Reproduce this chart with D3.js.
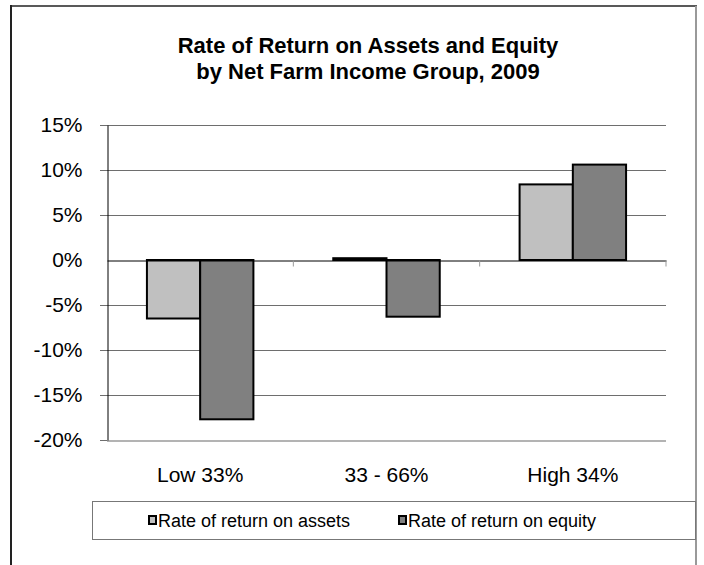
<!DOCTYPE html>
<html lang="en">
<head>
<meta charset="utf-8" />
<title>Rate of Return on Assets and Equity</title>
<script src="https://d3js.org/d3.v7.min.js"></script>
<style>
    body, html {
        margin: 0;
        padding: 0;
        background: #fff;
        font-family: Arial, "Liberation Sans", sans-serif;
    }
    .tick-label { font-size: 21px; fill: #000; }
    .legend-label { font-size: 18px; fill: #000; }
    .title { font-size: 22px; font-weight: bold; fill: #000; text-anchor: middle; }
</style>
</head>
<body>
<svg id="chart" width="704" height="565"></svg>
<script>
    // data
    const categories = ["Low 33%", "33 - 66%", "High 34%"];
    const seriesNames = ["Rate of return on assets", "Rate of return on equity"];
    const assets = [-6.5, 0.2, 8.4];
    const equity = [-17.7, -6.3, 10.6];
    const yTicks = [-20, -15, -10, -5, 0, 5, 10, 15];

    const colors = ["#c0c0c0", "#808080"];

    const svg = d3.select("#chart");

    // outer frame
    svg.append("line").attr("x1", 11).attr("x2", 697).attr("y1", 6).attr("y2", 6)
        .attr("stroke", "#595959").attr("stroke-width", 2);
    svg.append("line").attr("x1", 11).attr("x2", 11).attr("y1", 5).attr("y2", 565)
        .attr("stroke", "#222").attr("stroke-width", 2);
    svg.append("line").attr("x1", 696).attr("x2", 696).attr("y1", 6).attr("y2", 565)
        .attr("stroke", "#999").attr("stroke-width", 2);

    // title
    const title = svg.append("text").attr("class", "title");
    title.append("tspan").attr("x", 368).attr("y", 53).text("Rate of Return on Assets and Equity");
    title.append("tspan").attr("x", 368).attr("y", 79).text("by Net Farm Income Group, 2009");

    const x = d3.scaleBand().domain(categories).range([107, 666]);
    const xSub = d3.scaleBand().domain([0, 1]).range([0, x.bandwidth()]).paddingOuter(0.75);
    const y = d3.scaleLinear().domain([-20, 15]).range([440, 125]);

    // gridlines
    svg.append("g").selectAll("line")
        .data(yTicks.filter(d => d !== 0 && d !== -20))
        .enter().append("line")
        .attr("x1", 100).attr("x2", 666)
        .attr("y1", d => y(d) + 0.5).attr("y2", d => y(d) + 0.5)
        .attr("stroke", "#6e6e6e").attr("stroke-width", 1);

    // bottom line at -20%
    svg.append("line").attr("x1", 107).attr("x2", 666)
        .attr("y1", y(-20) + 1).attr("y2", y(-20) + 1)
        .attr("stroke", "#b3b3b3").attr("stroke-width", 2);
    svg.append("line").attr("x1", 100).attr("x2", 107)
        .attr("y1", y(-20) + 0.5).attr("y2", y(-20) + 0.5)
        .attr("stroke", "#6e6e6e");

    // y axis
    const yAxis = d3.axisLeft(y).tickValues(yTicks).tickFormat(d => d + "%")
        .tickSize(7).tickSizeOuter(0).tickPadding(18);
    const gy = svg.append("g").attr("transform", "translate(107.5,0)").call(yAxis);
    gy.select(".domain").attr("stroke", "#000");
    gy.selectAll(".tick line").attr("stroke", "none");
    gy.selectAll(".tick text").attr("class", "tick-label")
        .style("font-family", "Arial, 'Liberation Sans', sans-serif");

    // bars
    const rows = categories.map((c, i) => [assets[i], equity[i]]);
    const groups = svg.append("g").selectAll("g")
        .data(rows)
        .enter().append("g")
        .attr("transform", (d, i) => "translate(" + x(categories[i]) + ",0)");
    groups.selectAll("rect")
        .data(d => d)
        .enter().append("rect")
        .attr("x", (d, j) => xSub(j))
        .attr("y", d => y(Math.max(0, d)))
        .attr("width", xSub.bandwidth())
        .attr("height", d => Math.abs(y(d) - y(0)))
        .attr("fill", (d, j) => colors[j])
        .attr("stroke", "#000")
        .attr("stroke-width", 2);

    // zero line and category ticks
    const xAxis = d3.axisBottom(x).tickSize(6).tickSizeOuter(0).tickFormat("");
    const gx = svg.append("g").attr("transform", "translate(0," + (y(0) + 0.5) + ")").call(xAxis);
    gx.select(".domain").attr("stroke", "#000");
    gx.selectAll(".tick").remove();
    const bounds = x.domain().map(d => x(d)).concat([x.range()[1]]);
    gx.selectAll(".sep").data(bounds.slice(1)).enter().append("line")
        .attr("x1", d => d).attr("x2", d => d).attr("y1", 0).attr("y2", 6)
        .attr("stroke", "#999");

    // category labels
    svg.append("g").selectAll("text")
        .data(categories)
        .enter().append("text")
        .attr("class", "tick-label")
        .attr("x", d => x(d) + x.bandwidth() / 2)
        .attr("y", 482)
        .attr("text-anchor", "middle")
        .text(d => d);

    // legend
    svg.append("rect").attr("x", 92.5).attr("y", 501.5).attr("width", 603).attr("height", 38)
        .attr("fill", "none").attr("stroke", "#777").attr("stroke-width", 1);
    const legendX = [148, 398];
    const legend = svg.append("g").selectAll("g")
        .data(seriesNames)
        .enter().append("g")
        .attr("transform", (d, i) => "translate(" + legendX[i] + ",520)");
    legend.append("rect")
        .attr("x", 1).attr("y", -4).attr("width", 7).attr("height", 8)
        .attr("fill", (d, i) => colors[i]).attr("stroke", "#000").attr("stroke-width", 2);
    legend.append("text")
        .attr("class", "legend-label")
        .attr("x", 10).attr("y", 7)
        .text(d => d);
</script>
</body>
</html>
